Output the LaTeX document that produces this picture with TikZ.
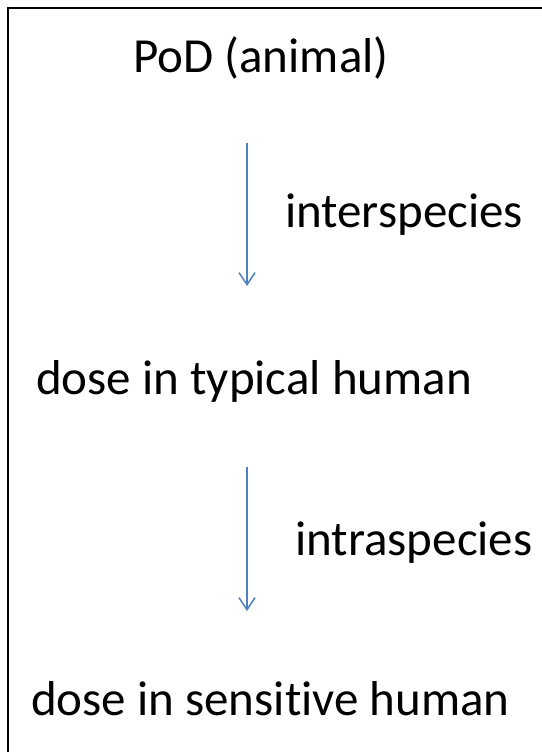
\documentclass[tikz,border=0pt]{standalone}
\usepackage{fontspec}
\setmainfont[Ligatures=NoCommon]{Carlito}
\usetikzlibrary{arrows.meta}
\definecolor{arrowblue}{RGB}{79,129,189}
\tikzset{
  lbl/.style={inner sep=0pt, anchor=base west, font=\fontsize{49}{58}\selectfont},
  flow/.style={draw=arrowblue, line width=1.5pt, -{Straight Barb[length=12pt,width=16pt,line width=1.5pt]}}
}
\begin{document}
\begin{tikzpicture}[x=1pt,y=-1pt]
\useasboundingbox (0,0) rectangle (541,752);
\fill[white] (0,0) rectangle (541,752);
\draw[line width=2pt] (8,760) -- (8,8) -- (550,8);
\node[lbl] (pod) at (133,72) {PoD (animal)};
\node[lbl] (inter) at (285,227) {interspecies};
\node[lbl] (typ) at (36,394) {dose in typical human};
\node[lbl] (intra) at (295,555) {intraspecies};
\node[lbl] (sens) at (31,715) {dose in sensitive human};
\coordinate (a1s) at (247,143);
\coordinate (a1e) at (247,286);
\coordinate (a2s) at (247,467);
\coordinate (a2e) at (247,611);
\draw[flow] (a1s) -- (a1e);
\draw[flow] (a2s) -- (a2e);
\end{tikzpicture}
\end{document}
